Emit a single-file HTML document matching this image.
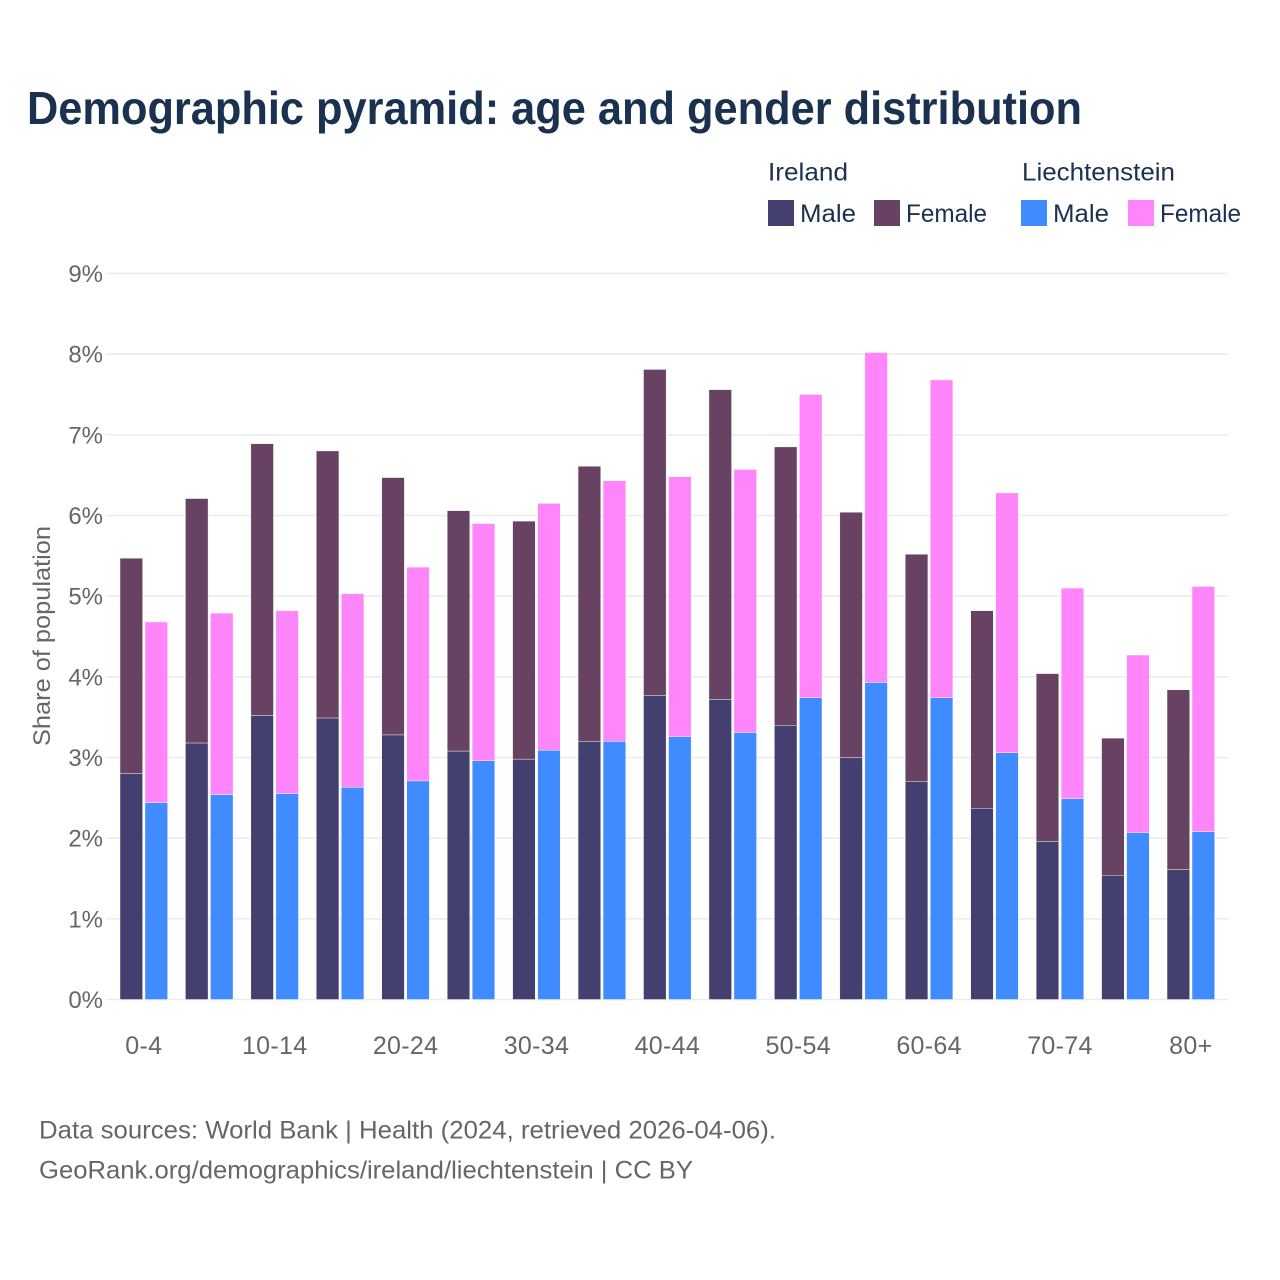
<!DOCTYPE html>
<html lang="en">
<head>
<meta charset="utf-8">
<title>Demographic pyramid: age and gender distribution</title>
<style>
html,body{margin:0;padding:0;background:#fff;width:1280px;height:1280px;overflow:hidden}
svg{display:block}
text{font-family:"Liberation Sans",sans-serif}
</style>
</head>
<body>
<svg id="chart" xmlns="http://www.w3.org/2000/svg" width="1280" height="1280" viewBox="0 0 1280 1280">
  <rect x="0" y="0" width="1280" height="1280" fill="#fff"/>
  <text x="27" y="124" font-size="46" font-weight="700" fill="#1a3150" textLength="1055" lengthAdjust="spacingAndGlyphs">Demographic pyramid: age and gender distribution</text>

  <g font-size="25" fill="#1a3150">
    <text x="768" y="180.5" textLength="80" lengthAdjust="spacingAndGlyphs">Ireland</text>
    <text x="1022" y="180.5" textLength="153" lengthAdjust="spacingAndGlyphs">Liechtenstein</text>
    <rect x="768" y="200" width="26" height="26" fill="#434070"/>
    <text x="800" y="222" textLength="56" lengthAdjust="spacingAndGlyphs">Male</text>
    <rect x="874" y="200" width="26" height="26" fill="#684263"/>
    <text x="906" y="222" textLength="81" lengthAdjust="spacingAndGlyphs">Female</text>
    <rect x="1021" y="200" width="26" height="26" fill="#3f8bff"/>
    <text x="1053" y="222" textLength="56" lengthAdjust="spacingAndGlyphs">Male</text>
    <rect x="1128" y="200" width="26" height="26" fill="#ff85fa"/>
    <text x="1160" y="222" textLength="81" lengthAdjust="spacingAndGlyphs">Female</text>
  </g>

  <g id="grid"></g>
  <g id="y-ticks"></g>
  <g id="bars"></g>
  <g id="x-ticks"></g>

  <text transform="translate(50 636) rotate(-90)" text-anchor="middle" font-size="24" fill="#666" textLength="220" lengthAdjust="spacingAndGlyphs">Share of population</text>

  <text x="39" y="1138.5" font-size="25" fill="#666" textLength="737" lengthAdjust="spacingAndGlyphs">Data sources: World Bank | Health (2024, retrieved 2026-04-06).</text>
  <text x="39" y="1178.5" font-size="25" fill="#666" textLength="654" lengthAdjust="spacingAndGlyphs">GeoRank.org/demographics/ireland/liechtenstein | CC BY</text>
</svg>

<script>
const categories = ["0-4","5-9","10-14","15-19","20-24","25-29","30-34","35-39","40-44","45-49","50-54","55-59","60-64","65-69","70-74","75-79","80+"];
const irelandMale = [2.80,3.18,3.52,3.49,3.28,3.08,2.98,3.20,3.77,3.72,3.40,3.00,2.70,2.37,1.96,1.54,1.61];
const irelandFemale = [2.67,3.03,3.37,3.31,3.19,2.98,2.95,3.41,4.04,3.84,3.45,3.04,2.82,2.45,2.08,1.70,2.23];
const liechtensteinMale = [2.44,2.54,2.55,2.63,2.71,2.96,3.09,3.20,3.26,3.31,3.74,3.93,3.74,3.06,2.49,2.07,2.08];
const liechtensteinFemale = [2.24,2.25,2.27,2.40,2.65,2.94,3.06,3.23,3.22,3.26,3.76,4.09,3.94,3.22,2.61,2.20,3.04];
const yTicks = [0,1,2,3,4,5,6,7,8,9];

const NS = "http://www.w3.org/2000/svg";
const plotBottom = 999.5;
const pxPerUnit = 80.67;
const bandStart = 120;
const bandStep = 65.44;
const barWidth = 22.6;
const barGap = 2.4;

function yScale(v) { return plotBottom - v * pxPerUnit; }
function xScale(i) { return bandStart + i * bandStep; }

const gridGroup = document.getElementById("grid");
const yTickGroup = document.getElementById("y-ticks");
const xTickGroup = document.getElementById("x-ticks");
const barGroup = document.getElementById("bars");

yTicks.forEach(function (t) {
  const line = document.createElementNS(NS, "line");
  
  
  line.setAttribute("x1", 106);
  line.setAttribute("x2", 1228);
  line.setAttribute("y1", yScale(t));
  line.setAttribute("y2", yScale(t));
  line.setAttribute("stroke", "#ececee");
  line.setAttribute("stroke-width", 1.6);
  gridGroup.appendChild(line);

  const label = document.createElementNS(NS, "text");
  
  
  label.setAttribute("x", 103);
  label.setAttribute("y", yScale(t) + 8.5);
  label.setAttribute("text-anchor", "end");
  label.setAttribute("font-size", 24);
  label.setAttribute("fill", "#666");
  label.textContent = t + "%";
  yTickGroup.appendChild(label);
});

function drawBar(x, bottom, value, color) {
  const top = bottom + value;
  const r = document.createElementNS(NS, "rect");
  
  
  r.setAttribute("x", x);
  r.setAttribute("y", yScale(top));
  r.setAttribute("width", barWidth);
  r.setAttribute("height", yScale(bottom) - yScale(top));
  r.setAttribute("fill", color);
  r.setAttribute("stroke", "#fff");
  r.setAttribute("stroke-width", 0.4);
  barGroup.appendChild(r);
}

categories.forEach(function (cat, i) {
  const x0 = xScale(i);
  const x1 = x0 + barWidth + barGap;
  drawBar(x0, 0, irelandMale[i], "#434070");
  drawBar(x0, irelandMale[i], irelandFemale[i], "#684263");
  drawBar(x1, 0, liechtensteinMale[i], "#3f8bff");
  drawBar(x1, liechtensteinMale[i], liechtensteinFemale[i], "#ff85fa");

  if (i % 2 === 0) {
    const label = document.createElementNS(NS, "text");
    
    
    label.setAttribute("x", x0 + barWidth + barGap / 2);
    label.setAttribute("y", 1054);
    label.setAttribute("text-anchor", "middle");
    label.setAttribute("font-size", 25);
    label.setAttribute("letter-spacing", 0.3);
    label.setAttribute("fill", "#666");
    label.textContent = cat;
    xTickGroup.appendChild(label);
  }
});
</script>
</body>
</html>
